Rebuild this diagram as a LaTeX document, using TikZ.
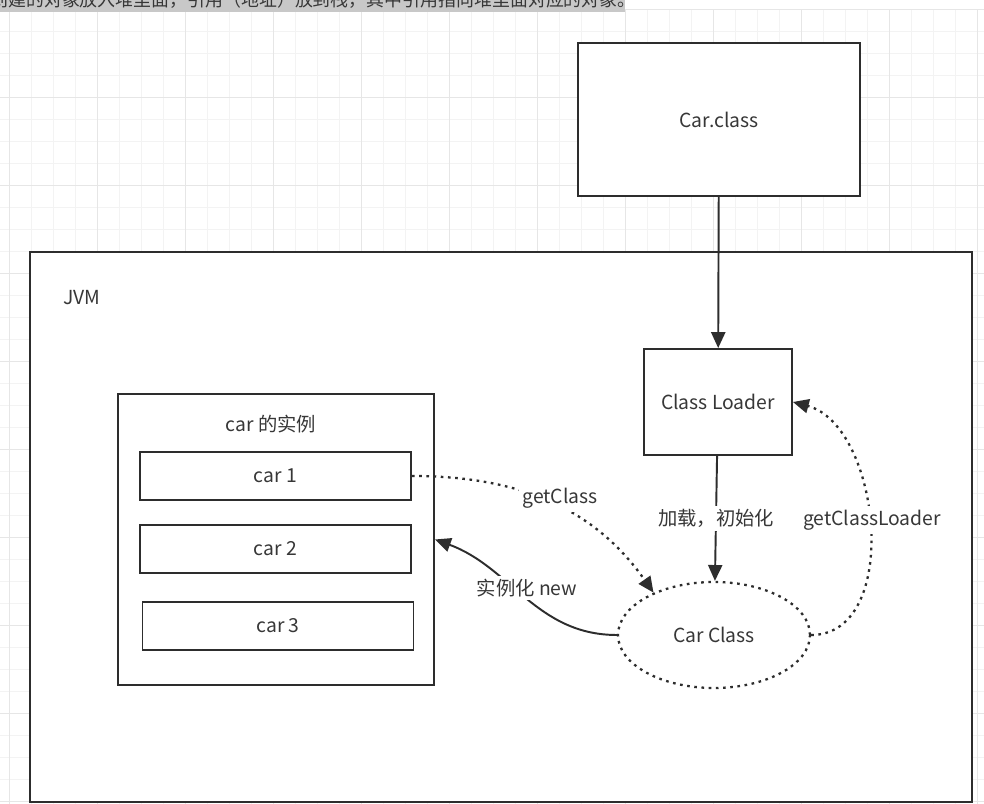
\documentclass[tikz,border=0pt]{standalone}
\usepackage{fontspec}
\setmainfont{Noto Sans CJK SC}
\usepackage{tikz}
\usetikzlibrary{arrows.meta,shapes.geometric,positioning}
\definecolor{lineGray}{RGB}{45,45,45}
\definecolor{textGray}{RGB}{55,55,55}
\definecolor{gridMinor}{RGB}{243,243,243}
\definecolor{gridMajor}{RGB}{230,230,230}
\definecolor{stripGray}{RGB}{200,200,200}
\tikzset{
  gridLine/.style={draw=#1,line width=0.5pt},
  plainBox/.style={rectangle,draw=lineGray,fill=white,line width=1.1pt,
                   text=textGray,inner sep=0pt},
  carItem/.style={plainBox,minimum width=5.42cm,minimum height=0.96cm},
  dotLine/.style={draw=lineGray,line width=1.3pt,dash pattern=on 1.5pt off 2.6pt},
  solidArrow/.style={-{Triangle[length=9pt,width=8pt]},draw=lineGray,line width=1.1pt},
  dotArrow/.style={dotLine,-{Triangle[length=9pt,width=8pt]}},
  lbl/.style={fill=white,text=textGray,inner sep=2pt},
}

\begin{document}
\begin{tikzpicture}[font=\fontsize{11}{13}\selectfont]
  \useasboundingbox (0,0) rectangle (19.68,16.08);
  % grid
  \foreach \i in {0,...,44}{\draw[gridLine=gridMinor] ({0.18+0.44*\i},0) -- ({0.18+0.44*\i},15.89);}
  \foreach \j in {0,...,36}{\draw[gridLine=gridMinor] (0,{15.89-0.44*\j}) -- (19.68,{15.89-0.44*\j});}
  \foreach \i in {0,4,...,44}{\draw[gridLine=gridMajor] ({0.18+0.44*\i},0) -- ({0.18+0.44*\i},15.89);}
  \foreach \j in {0,4,...,36}{\draw[gridLine=gridMajor] (0,{15.89-0.44*\j}) -- (19.68,{15.89-0.44*\j});}
  % cut caption at the top
  \fill[stripGray] (0,15.84) rectangle (12.5,16.08);
  \begin{scope}
    \clip (0,15.84) rectangle (12.5,16.08);
    \node[anchor=base west,inner sep=0pt,text=textGray,font=\fontsize{10.2}{12}\selectfont]
      (caption) at (-0.2,15.95)
      {创建的对象放入堆里面，引用（地址）放到栈，其中引用指向堆里面对应的对象。};
  \end{scope}

  \node[plainBox,minimum width=5.64cm,minimum height=3.06cm] (carclass) at (14.38,13.69) {Car.class};
  \node[plainBox,minimum width=18.84cm,minimum height=11cm] (jvm) at (10.02,5.54) {};
  \node[anchor=west,inner sep=0pt,text=textGray] (jvmlbl) at (1.26,10.12) {JVM};
  \node[plainBox,minimum width=2.96cm,minimum height=2.12cm] (loader) at (14.36,8.04) {Class Loader};

  \node[plainBox,minimum width=6.32cm,minimum height=5.82cm] (cars) at (5.52,5.29) {};
  \node[text=textGray] (carslbl) at (5.42,7.6) {car 的实例};
  \node[carItem] (car1) at (5.51,6.56) {car 1};
  \node[carItem,below=0.46cm of car1] (car2) {car 2};
  \node[carItem,below=0.54cm of car2,xshift=0.05cm] (car3) {car 3};

  \node[ellipse,dotLine,fill=white,minimum width=3.84cm,minimum height=2.12cm,
        text=textGray,inner sep=0pt] (carcls) at (14.28,3.38) {Car Class};

  \draw[solidArrow] (carclass) -- (loader);
  \draw[solidArrow] (loader) -- node[lbl]{加载，初始化} (carcls);
  \draw[dotArrow] (car1.east) to[out=0,in=125] (carcls.145);
  \node[lbl] (getcls) at (11.2,6.12) {getClass};
  \draw[solidArrow] (carcls.west) to[out=180,in=-20] (cars.east);
  \node[lbl] (newlbl) at (10.54,4.32) {实例化 new};
  \draw[dotArrow] (carcls.east) to[out=0,in=-15] (loader.east);
  \node[lbl] (getldr) at (17.44,5.68) {getClassLoader};
\end{tikzpicture}
\end{document}
